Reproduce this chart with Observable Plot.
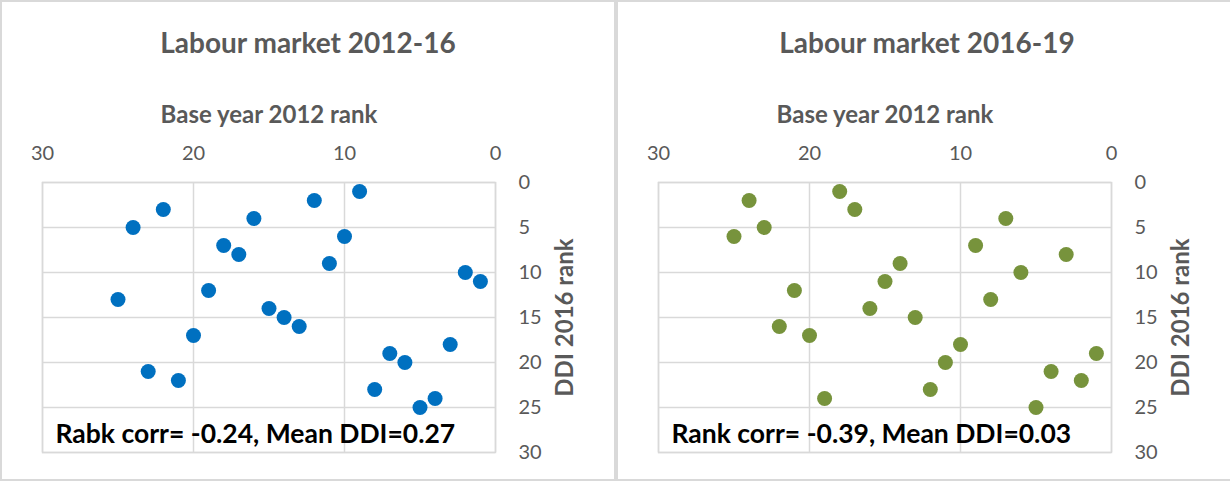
<!DOCTYPE html>
<html>
<head>
<meta charset="utf-8">
<script src="https://cdn.jsdelivr.net/npm/d3@7"></script>
<script src="https://cdn.jsdelivr.net/npm/@observablehq/plot@0.6"></script>
<style>
  html, body { margin: 0; padding: 0; background: #fff; overflow: hidden; }
  #root { position: relative; width: 1230px; height: 481px; overflow: hidden; font-family: Lato, "Open Sans", sans-serif; }
  .panel { position: absolute; top: 0; height: 481px; box-sizing: border-box; border: 2px solid #d9d9d9; background: #fff; }
  .title { position: absolute; left: 0; right: 0; top: 23px; text-align: center; font-weight: bold; font-size: 28px; line-height: 34px; color: #595959; }
  .chart { position: absolute; left: 0; top: 88px; }
</style>
</head>
<body>
<div id="root">
  <div class="panel" id="p1" style="left:0; width:616px;"><div class="title" id="t1"></div><div class="chart" id="c1"></div></div>
  <div class="panel" id="p2" style="left:616px; width:622px;"><div class="title" id="t2"></div><div class="chart" id="c2"></div></div>
</div>
<script>
// ---- data ----
const titles = ["Labour market 2012-16", "Labour market 2016-19"];
const xLabel = "Base year 2012 rank";
const yLabel = "DDI 2016 rank";
const annotations = ["Rabk corr= -0.24, Mean DDI=0.27", "Rank corr= -0.39, Mean DDI=0.03"];
const colors = ["#0070C0", "#77933C"];
const xTicks = [30, 20, 10, 0];
const yTicks = [0, 5, 10, 15, 20, 25, 30];

const ddiRank = [1, 2, 3, 4, 5, 6, 7, 8, 9, 10, 11, 12, 13, 14, 15, 16, 17, 18, 19, 20, 21, 22, 23, 24, 25];
const baseRank2012_16 = [9, 12, 22, 16, 24, 10, 18, 17, 11, 2, 1, 19, 25, 15, 14, 13, 20, 3, 7, 6, 23, 21, 8, 4, 5];
const baseRank2016_19 = [18, 24, 17, 7, 23, 25, 9, 3, 14, 6, 15, 21, 8, 16, 13, 22, 20, 10, 1, 11, 4, 2, 12, 19, 5];

const seriesX = [baseRank2012_16, baseRank2016_19];

function makeChart(i) {
  const pts = ddiRank.map((y, k) => ({x: seriesX[i][k], y}));
  const grid = "#d9d9d9";
  return Plot.plot({
    width: 610,
    height: 390,
    marginLeft: 40,
    marginRight: 117,
    marginTop: 92,
    marginBottom: 28,
    style: {fontFamily: "Lato, 'Open Sans', sans-serif", fontSize: "20px", color: "#595959", background: "transparent", overflow: "visible"},
    x: {domain: [30, 0]},
    y: {domain: [30, 0]},
    marks: [
      Plot.gridX(xTicks, {stroke: grid, strokeOpacity: 1, strokeWidth: 1.5}),
      Plot.gridY(yTicks, {stroke: grid, strokeOpacity: 1, strokeWidth: 1.5}),
      Plot.frame({stroke: grid, strokeWidth: 1.5}),
      Plot.axisX(xTicks, {anchor: "top", tickSize: 0, tickPadding: 23, label: null, fontSize: 20, fill: "#595959"}),
      Plot.axisY(yTicks, {anchor: "right", tickSize: 0, tickPadding: 23, label: null, fontSize: 20, fill: "#595959", textAnchor: "start"}),
      Plot.text([xLabel], {frameAnchor: "top", dy: -77, fontSize: 24, fontWeight: "bold", fill: "#595959"}),
      Plot.text([yLabel], {frameAnchor: "right", textAnchor: "middle", lineAnchor: "middle", dx: 70, rotate: -90, fontSize: 24, fontWeight: "bold", fill: "#595959"}),
      Plot.dot(pts, {x: "x", y: "y", r: 7.5, fill: colors[i], stroke: "none"}),
      Plot.text([annotations[i]], {frameAnchor: "bottom-left", textAnchor: "start", dx: 13, dy: -10, fontSize: 26.5, fontWeight: "bold", fill: "#000"})
    ]
  });
}

document.getElementById("t1").textContent = titles[0];
document.getElementById("t2").textContent = titles[1];
document.getElementById("c1").appendChild(makeChart(0));
document.getElementById("c2").appendChild(makeChart(1));
</script>
</body>
</html>
